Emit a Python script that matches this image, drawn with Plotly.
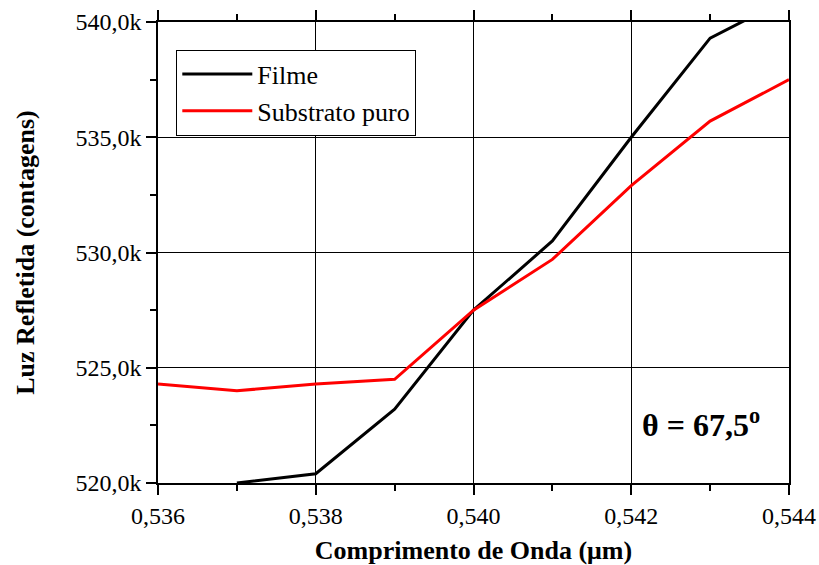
import plotly.graph_objects as go

wavelength_filme = [0.537, 0.538, 0.539, 0.540, 0.541, 0.542, 0.543, 0.544]
filme = [520000, 520400, 523200, 527500, 530500, 535000, 539300, 541050]

wavelength_subst = [0.536, 0.537, 0.538, 0.539, 0.540, 0.541, 0.542, 0.543, 0.544]
substrato = [524300, 524000, 524300, 524500, 527500, 529700, 532900, 535700, 537500]

x_ticks = [0.536, 0.538, 0.540, 0.542, 0.544]
x_labels = ["0,536", "0,538", "0,540", "0,542", "0,544"]
y_ticks = [520000, 525000, 530000, 535000, 540000]
y_labels = ["520,0k", "525,0k", "530,0k", "535,0k", "540,0k"]

FONT = "Liberation Serif, Times New Roman, serif"

fig = go.Figure()
fig.add_trace(go.Scatter(x=wavelength_filme, y=filme, mode="lines", name="Filme",
                         line=dict(color="black", width=3)))
fig.add_trace(go.Scatter(x=wavelength_subst, y=substrato, mode="lines", name="Substrato puro",
                         line=dict(color="#ff0000", width=3)))

axis_common = dict(
    showline=True, linecolor="black", linewidth=1.5,
    ticks="outside", ticklen=10, tickwidth=1.5, tickcolor="black",
    showgrid=True, gridcolor="black", gridwidth=1.2, zeroline=False,
    tickfont=dict(family=FONT, size=24, color="black"),
    automargin=False,
)

fig.update_xaxes(
    range=[0.536, 0.544], tickvals=x_ticks, ticktext=x_labels, mirror="allticks",
    minor=dict(ticks="outside", ticklen=6, tickwidth=1.5, tickcolor="black", dtick=0.001, tick0=0.536, showgrid=False),
    title=dict(text="<b>Comprimento de Onda (μm)</b>", font=dict(family=FONT, size=26, color="black"), standoff=23),
    **axis_common,
)
fig.update_yaxes(
    range=[520000, 540000], tickvals=y_ticks, ticktext=y_labels, mirror=True,
    minor=dict(ticks="outside", ticklen=6, tickwidth=1.5, tickcolor="black", dtick=2500, tick0=520000, showgrid=False),
    title=dict(text="<b>Luz Refletida (contagens)</b>", font=dict(family=FONT, size=26, color="black"), standoff=33),
    **axis_common,
)

fig.add_annotation(x=0.54289, y=522600, text="<b>θ = 67,5<sup>o</sup></b>", showarrow=False,
                   font=dict(family=FONT, size=32, color="black"))

fig.update_layout(
    width=819, height=565,
    margin=dict(l=158, r=30, t=22, b=82),
    paper_bgcolor="white", plot_bgcolor="white",
    font=dict(family=FONT, color="black"),
    legend=dict(x=0.029, y=0.94, xanchor="left", yanchor="top",
                bordercolor="black", borderwidth=1, bgcolor="white",
                font=dict(family=FONT, size=26, color="black"),
                itemwidth=70, tracegroupgap=0),
    showlegend=True,
)

fig.write_html("out.html",
               config={"displayModeBar": False},
               post_script="document.body.style.margin='0';document.body.style.overflow='hidden';")
